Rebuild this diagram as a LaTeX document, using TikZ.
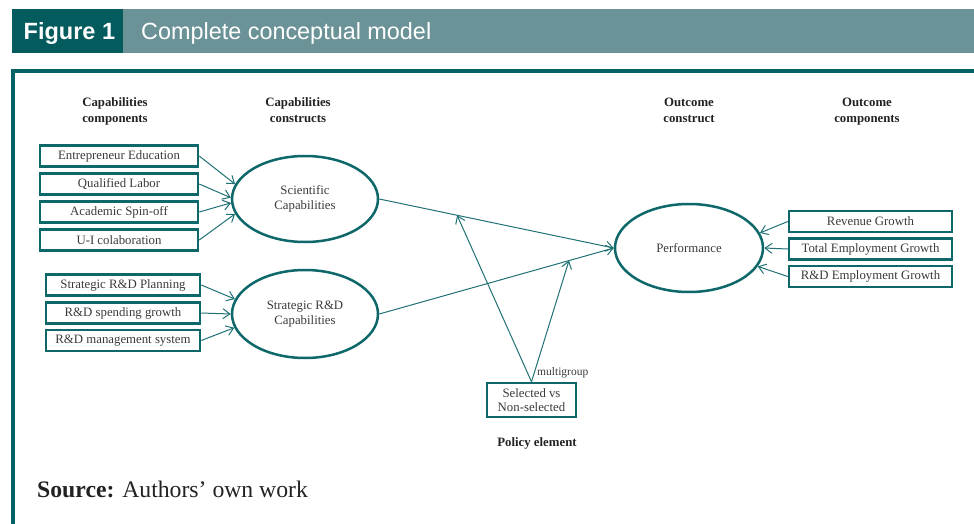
\documentclass[tikz,border=0pt]{standalone}
\usepackage{fontspec}
\setmainfont{Liberation Serif}
\newfontfamily\hdrfont{Liberation Sans}
\usetikzlibrary{arrows.meta,shapes.geometric}
\definecolor{darkteal}{HTML}{045B5E}
\definecolor{lightteal}{HTML}{6B9397}
\definecolor{frameteal}{HTML}{056266}
\definecolor{boxteal}{HTML}{0E6769}
\definecolor{lineteal}{HTML}{1F7174}
\definecolor{txt}{HTML}{3A3A3A}
\definecolor{hdtxt}{HTML}{222222}
\tikzset{
  lbl/.style={font=\fontsize{12.8}{15}\selectfont, text=txt},
  hd/.style={font=\fontsize{12.8}{16}\selectfont\bfseries, text=hdtxt, align=center},
  compbox/.style={lbl, draw=boxteal, line width=2.5pt, inner sep=0pt, minimum height=21pt},
  cons/.style={lbl, ellipse, draw=boxteal, line width=2.5pt, inner sep=0pt, align=center, minimum width=146pt, minimum height=86pt},
  conn/.style={draw=lineteal, line width=1pt, -{Straight Barb[length=7pt,width=10pt]}}
}
\begin{document}
\begin{tikzpicture}[x=1pt,y=-1pt]
\useasboundingbox (0,0) rectangle (974,524);
% header
\fill[darkteal] (12,9) rectangle (123,53);
\fill[lightteal] (123,9) rectangle (974,53);
\node[anchor=base west, inner sep=0pt, text=white, font=\hdrfont\fontsize{23.5}{26}\selectfont\bfseries] (fig) at (23.5,39.5) {Figure 1};
\node[anchor=base west, inner sep=0pt, text=white, font=\hdrfont\fontsize{23.4}{26}\selectfont] (title) at (141,39.5) {Complete conceptual model};
% frame
\draw[frameteal, line width=3.5pt] (13,526) -- (13,71) -- (976,71);
% column headers
\node[hd] (h1) at (115,111) {Capabilities\strut\\components\strut};
\node[hd] (h2) at (298,111) {Capabilities\strut\\constructs\strut};
\node[hd] (h3) at (689,111) {Outcome\strut\\construct\strut};
\node[hd] (h4) at (867,111) {Outcome\strut\\components\strut};
% left components
\node[compbox, minimum width=158pt] (c1) at (119,156) {Entrepreneur Education};
\node[compbox, minimum width=158pt] (c2) at (119,184) {Qualified Labor};
\node[compbox, minimum width=158pt] (c3) at (119,212) {Academic Spin-off};
\node[compbox, minimum width=158pt] (c4) at (119,240) {U-I colaboration};
\node[compbox, minimum width=154pt] (c5) at (123,285) {Strategic R\&D Planning};
\node[compbox, minimum width=154pt] (c6) at (123,313) {R\&D spending growth};
\node[compbox, minimum width=154pt] (c7) at (123,340.5) {R\&D management system};
% constructs
\node[cons] (sc) at (305,199) {Scientific\\Capabilities};
\node[cons, minimum height=88pt] (sr) at (305,314) {Strategic R\&D\\Capabilities};
\node[cons, minimum width=148pt, minimum height=88pt] (perf) at (689,248) {Performance};
% right components
\node[compbox, minimum width=163pt] (o1) at (870.5,221.5) {Revenue Growth};
\node[compbox, minimum width=163pt] (o2) at (870.5,249) {Total Employment Growth};
\node[compbox, minimum width=163pt] (o3) at (870.5,276.5) {R\&D Employment Growth};
% policy
\node[compbox, align=center, minimum width=89pt, minimum height=34pt, font=\fontsize{12.8}{14}\selectfont] (pol) at (531.5,400) {Selected vs\\Non-selected};
\node[lbl, font=\fontsize{11.5}{13}\selectfont, anchor=west, inner sep=0pt] (mg) at (537,373) {multigroup};
\node[hd] (pe) at (537,443) {Policy element};
% source
\node[anchor=base west, inner sep=0pt, text=hdtxt, font=\fontsize{23.7}{26}\selectfont] (src) at (37,497) {\textbf{Source:} Authors’ own work};
% connectors: components to constructs
\draw[conn] (c1.east) -- (sc.168);
\draw[conn] (c2.east) -- (sc.179);
\draw[conn] (c3.east) -- (sc.183);
\draw[conn] (c4.east) -- (sc.192);
\draw[conn] (c5.east) -- (sr.168);
\draw[conn] (c6.east) -- (sr.180);
\draw[conn] (c7.east) -- (sr.191);
% outcome components
\draw[conn] (o1.west) -- (perf.12);
\draw[conn] (o2.west) -- (perf.0);
\draw[conn] (o3.west) -- (perf.-15);
% constructs to performance
\draw[conn] (sc.east) -- coordinate[pos=0.332] (m1) (perf.west);
\draw[conn] (sr.east) -- coordinate[pos=0.809] (m2) (perf.west);
% moderation
\coordinate (apex) at (pol.north);
\draw[conn] (apex) -- (m1);
\draw[conn] (apex) -- (m2);
\end{tikzpicture}
\end{document}
